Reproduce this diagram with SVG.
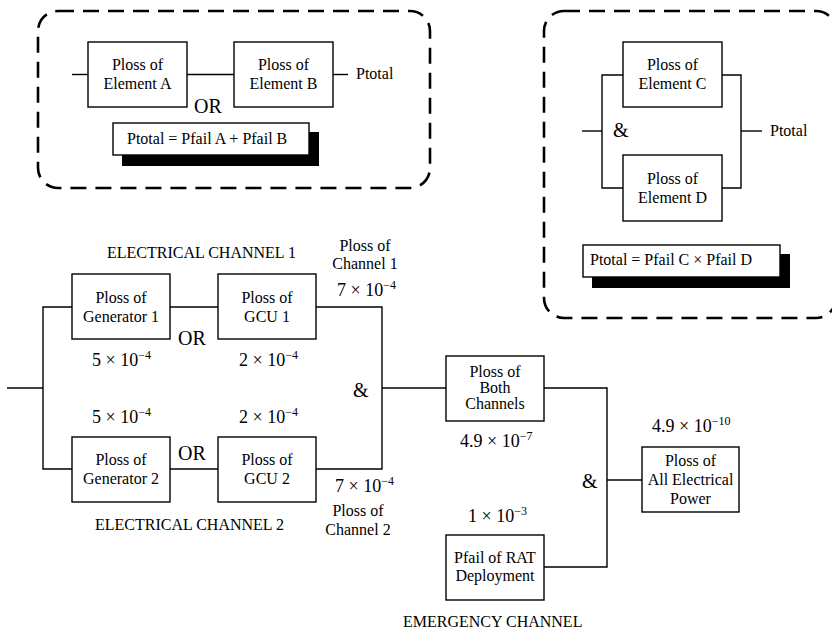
<svg xmlns="http://www.w3.org/2000/svg" width="832" height="632" viewBox="0 0 832 632">
<style>
text{font-family:"Liberation Serif","Times New Roman",serif;font-size:16px;fill:#000}
.c{text-anchor:middle}
.n{font-size:18px}
.sup{font-size:12px}
.op{font-size:20px}
.box{fill:#fff;stroke:#000;stroke-width:1.4}
.w{fill:none;stroke:#000;stroke-width:1.4}
.dash{fill:none;stroke:#000;stroke-width:2.6;stroke-dasharray:16 9}
.sh{fill:#000}
</style>
<rect width="832" height="632" fill="#fff"/>

<g id="legend-or">
<rect class="dash" x="38" y="11" width="392" height="177" rx="20"/>
<g id="elemA"><rect class="box" x="88" y="42" width="99" height="65"/><text class="c" x="137.5" y="70">Ploss of</text><text class="c" x="137.5" y="89">Element A</text></g>
<g id="elemB"><rect class="box" x="234" y="42" width="99" height="65"/><text class="c" x="283.5" y="70">Ploss of</text><text class="c" x="283.5" y="89">Element B</text></g>
<text x="356" y="79">Ptotal</text>
<text class="op" x="194" y="113">OR</text>
<g id="formulaAB"><rect class="sh" x="122" y="132" width="197" height="34"/><rect class="box" x="113" y="123" width="196" height="32"/><text x="127" y="144">Ptotal = Pfail A + Pfail B</text></g>
</g>

<g id="legend-and">
<rect class="dash" x="544" y="11" width="292" height="307" rx="20"/>
<g id="elemC"><rect class="box" x="623" y="42" width="99" height="65"/><text class="c" x="672.5" y="70">Ploss of</text><text class="c" x="672.5" y="89">Element C</text></g>
<g id="elemD"><rect class="box" x="623" y="155" width="99" height="66"/><text class="c" x="672.5" y="184">Ploss of</text><text class="c" x="672.5" y="203">Element D</text></g>
<text x="770" y="136">Ptotal</text>
<text class="op" x="613" y="137">&amp;</text>
<g id="formulaCD"><rect class="sh" x="592" y="254" width="198" height="34"/><rect class="box" x="583" y="245" width="197" height="32"/><text x="590" y="265">Ptotal = Pfail C × Pfail D</text></g>
</g>

<g id="connectors">
<line class="w" x1="72" y1="74.5" x2="88" y2="74.5"/>
<line class="w" x1="187" y1="74.5" x2="234" y2="74.5"/>
<line class="w" x1="333" y1="74.5" x2="348" y2="74.5"/>
<line class="w" x1="582" y1="131" x2="602" y2="131"/>
<polyline class="w" points="623,75 602,75 602,188 623,188"/>
<polyline class="w" points="722,75 741,75 741,188 722,188"/>
<line class="w" x1="741" y1="131" x2="762" y2="131"/>
<line class="w" x1="7" y1="388" x2="43" y2="388"/>
<polyline class="w" points="72,307 43,307 43,469 72,469"/>
<line class="w" x1="170" y1="307" x2="218" y2="307"/>
<line class="w" x1="170" y1="469" x2="218" y2="469"/>
<polyline class="w" points="316,307 382,307 382,469 316,469"/>
<line class="w" x1="382" y1="388" x2="446" y2="388"/>
<polyline class="w" points="544,388 607,388 607,567 544,567"/>
<line class="w" x1="607" y1="480" x2="642" y2="480"/>
</g>

<g id="gen1"><rect class="box" x="72" y="274" width="98" height="65"/><text class="c" x="121" y="303">Ploss of</text><text class="c" x="121" y="322">Generator 1</text></g>
<g id="gcu1"><rect class="box" x="218" y="274" width="98" height="65"/><text class="c" x="267" y="303">Ploss of</text><text class="c" x="267" y="322">GCU 1</text></g>
<g id="gen2"><rect class="box" x="72" y="437" width="98" height="65"/><text class="c" x="121" y="465">Ploss of</text><text class="c" x="121" y="484">Generator 2</text></g>
<g id="gcu2"><rect class="box" x="218" y="437" width="98" height="65"/><text class="c" x="267" y="465">Ploss of</text><text class="c" x="267" y="484">GCU 2</text></g>
<g id="both"><rect class="box" x="446" y="356" width="98" height="65"/><text class="c" x="495" y="377">Ploss of</text><text class="c" x="495" y="393">Both</text><text class="c" x="495" y="409">Channels</text></g>
<g id="rat"><rect class="box" x="446" y="535" width="98" height="65"/><text class="c" x="495" y="563">Pfail of RAT</text><text class="c" x="495" y="581">Deployment</text></g>
<g id="all"><rect class="box" x="642" y="447" width="97" height="65"/><text class="c" x="690.5" y="466">Ploss of</text><text class="c" x="690.5" y="485">All Electrical</text><text class="c" x="690.5" y="504">Power</text></g>

<g id="labels">
<text x="107" y="258">ELECTRICAL CHANNEL 1</text>
<text x="95" y="530">ELECTRICAL CHANNEL 2</text>
<text x="403" y="627">EMERGENCY CHANNEL</text>
<text class="c" x="365" y="251">Ploss of</text>
<text class="c" x="365" y="269">Channel 1</text>
<text class="c" x="358" y="516">Ploss of</text>
<text class="c" x="358" y="535">Channel 2</text>
<text class="op" x="178" y="345">OR</text>
<text class="op" x="178" y="460">OR</text>
<text class="op" x="353" y="397">&amp;</text>
<text class="op" x="582" y="488">&amp;</text>
<text class="n" x="92" y="366">5 × 10<tspan class="sup" dy="-7">−4</tspan></text>
<text class="n" x="239" y="366">2 × 10<tspan class="sup" dy="-7">−4</tspan></text>
<text class="n" x="92" y="423">5 × 10<tspan class="sup" dy="-7">−4</tspan></text>
<text class="n" x="239" y="423">2 × 10<tspan class="sup" dy="-7">−4</tspan></text>
<text class="n" x="337" y="296">7 × 10<tspan class="sup" dy="-7">−4</tspan></text>
<text class="n" x="335" y="492">7 × 10<tspan class="sup" dy="-7">−4</tspan></text>
<text class="n" x="460" y="447">4.9 × 10<tspan class="sup" dy="-7">−7</tspan></text>
<text class="n" x="652" y="432">4.9 × 10<tspan class="sup" dy="-7">−10</tspan></text>
<text class="n" x="468" y="522">1 × 10<tspan class="sup" dy="-7">−3</tspan></text>
</g>
</svg>
